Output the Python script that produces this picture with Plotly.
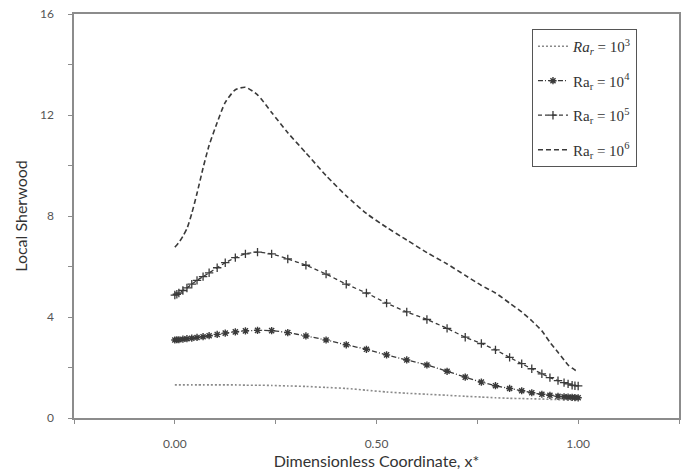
import plotly.graph_objects as go

# Dimensionless coordinate grid
x_star = [0.000, 0.005, 0.010, 0.020, 0.030, 0.042, 0.055, 0.070, 0.085, 0.105,
          0.125, 0.150, 0.175, 0.205, 0.240, 0.280, 0.325, 0.375, 0.425, 0.475,
          0.525, 0.575, 0.625, 0.675, 0.720, 0.760, 0.795, 0.830, 0.860, 0.885,
          0.910, 0.930, 0.950, 0.965, 0.975, 0.985, 0.992, 1.000]

sh_ra3 = [1.31, 1.31, 1.31, 1.31, 1.31, 1.31, 1.31, 1.31, 1.31, 1.31,
          1.31, 1.31, 1.30, 1.30, 1.29, 1.27, 1.25, 1.21, 1.17, 1.10,
          1.03, 0.98, 0.94, 0.90, 0.86, 0.83, 0.80, 0.78, 0.77, 0.76,
          0.75, 0.74, 0.73, 0.72, 0.72, 0.71, 0.71, 0.70]

sh_ra4 = [3.09, 3.10, 3.10, 3.12, 3.14, 3.16, 3.19, 3.22, 3.26, 3.31,
          3.36, 3.41, 3.45, 3.47, 3.46, 3.38, 3.25, 3.09, 2.90, 2.72,
          2.50, 2.30, 2.10, 1.85, 1.62, 1.42, 1.28, 1.17, 1.08, 1.00,
          0.94, 0.90, 0.86, 0.84, 0.83, 0.82, 0.81, 0.80]

sh_ra5 = [4.87, 4.90, 4.95, 5.05, 5.15, 5.30, 5.45, 5.60, 5.75, 5.95,
          6.15, 6.35, 6.50, 6.57, 6.50, 6.30, 6.05, 5.70, 5.30, 4.95,
          4.55, 4.20, 3.90, 3.55, 3.20, 2.95, 2.70, 2.40, 2.15, 1.95,
          1.75, 1.60, 1.48, 1.40, 1.35, 1.30, 1.28, 1.27]

sh_ra6 = [6.77, 6.85, 6.95, 7.20, 7.50, 8.10, 8.90, 9.90, 10.80, 11.70,
          12.50, 13.00, 13.10, 12.80, 12.10, 11.30, 10.50, 9.60, 8.80, 8.10,
          7.55, 7.05, 6.55, 6.10, 5.65, 5.25, 4.95, 4.55, 4.20, 3.85,
          3.45, 3.00, 2.60, 2.30, 2.10, 1.98, 1.90, 1.86]

legend_names = ["<i>Ra<sub>r</sub></i> = 10<sup>3</sup>",
                "Ra<sub>r</sub> = 10<sup>4</sup>",
                "Ra<sub>r</sub> = 10<sup>5</sup>",
                "Ra<sub>r</sub> = 10<sup>6</sup>"]

x_tick_vals = [0.0, 0.5, 1.0]
x_tick_text = ["0.00", "0.50", "1.00"]
y_tick_vals = [0, 4, 8, 12, 16]
y_tick_text = ["0", "4", "8", "12", "16"]

fig = go.Figure()
fig.add_trace(go.Scatter(x=x_star, y=sh_ra3, mode="lines", name=legend_names[0],
                         legendgroup="a",
                         line=dict(color="#8a8a8a", width=1.6, dash="2px,2px",
                                   shape="spline", smoothing=0.6)))
fig.add_trace(go.Scatter(x=x_star, y=sh_ra4, mode="lines+markers", name=legend_names[1],
                         legendgroup="b",
                         line=dict(color="#3a3a3a", width=1.3, dash="5px,2px,1px,2px",
                                   shape="spline", smoothing=0.6),
                         marker=dict(symbol="asterisk-open", size=6,
                                     line=dict(color="#2a2a2a", width=1.4))))
fig.add_trace(go.Scatter(x=x_star, y=sh_ra5, mode="lines+markers", name=legend_names[2],
                         legendgroup="c",
                         line=dict(color="#3a3a3a", width=1.3, dash="4px,3px",
                                   shape="spline", smoothing=0.6),
                         marker=dict(symbol="cross-thin-open", size=6,
                                     line=dict(color="#2a2a2a", width=1.3))))
fig.add_trace(go.Scatter(x=x_star, y=sh_ra6, mode="lines", name=legend_names[3],
                         legendgroup="d",
                         line=dict(color="#3a3a3a", width=1.6, dash="5px,3px",
                                   shape="spline", smoothing=0.6)))

axis_common = dict(showgrid=False, zeroline=False, showline=True, mirror=True,
                   linecolor="#8c8c8c", linewidth=1.5, ticks="outside",
                   ticklen=4, tickcolor="#8c8c8c", tickwidth=1.2,
                   tickfont=dict(family="Lato", size=12, color="#555555"))

fig.update_xaxes(range=[-0.25, 1.25], tickmode="array", tickvals=x_tick_vals,
                 ticktext=x_tick_text, ticklabelstandoff=10,
                 minor=dict(ticks="outside", dtick=0.25, tick0=0, ticklen=4,
                            tickcolor="#8c8c8c", tickwidth=1.2),
                 title=dict(text="Dimensionless Coordinate, x*", standoff=0,
                            font=dict(family="Lato", size=16, color="#333333")),
                 **axis_common)
fig.update_yaxes(range=[0, 16], tickmode="array", tickvals=y_tick_vals,
                 ticktext=y_tick_text, ticklabelstandoff=12,
                 minor=dict(ticks="outside", dtick=2, tick0=0, ticklen=4,
                            tickcolor="#8c8c8c", tickwidth=1.2),
                 title=dict(text="Local Sherwood", standoff=8,
                            font=dict(family="Lato", size=16, color="#333333")),
                 **axis_common)

fig.update_layout(
    width=686, height=474,
    margin=dict(l=74, r=7, t=14, b=56, autoexpand=False),
    plot_bgcolor="white", paper_bgcolor="white",
    showlegend=True,
    legend=dict(x=0.757, y=0.963, xanchor="left", yanchor="top",
                bgcolor="white", bordercolor="#555555", borderwidth=1,
                font=dict(family="Liberation Serif", size=15, color="#333333"),
                tracegroupgap=12, itemwidth=30),
)

fig.write_html("out.html", config={"displayModeBar": False},
               post_script="document.body.style.margin='0px';document.body.style.overflow='hidden';")
